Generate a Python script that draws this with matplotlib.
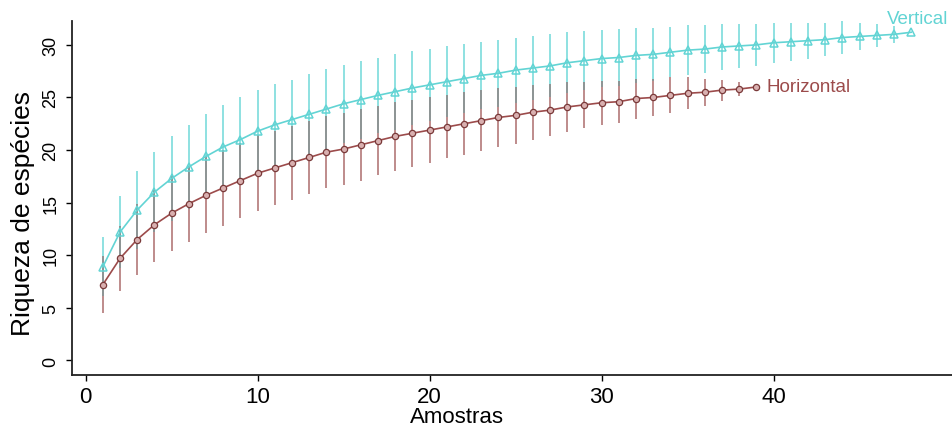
import numpy as np
import matplotlib
matplotlib.use("Agg")
import matplotlib.pyplot as plt

plt.rcParams['font.family'] = ['Liberation Sans', 'DejaVu Sans']

# species accumulation, "Vertical" sampling (48 samples)
vert_mean = [8.9, 12.2, 14.3, 16.0, 17.3, 18.4, 19.4, 20.3, 21.0, 21.8,
             22.4, 22.9, 23.4, 23.9, 24.4, 24.8, 25.2, 25.55, 25.9, 26.2,
             26.5, 26.8, 27.1, 27.3, 27.6, 27.8, 28.0, 28.3, 28.5, 28.7,
             28.8, 29.0, 29.1, 29.3, 29.5, 29.6, 29.8, 29.9, 30.0, 30.2,
             30.3, 30.4, 30.5, 30.7, 30.8, 30.9, 31.0, 31.2]
vert_sd = [2.8, 3.4, 3.7, 3.8, 4.0, 4.0, 4.0, 4.0, 4.0, 3.9,
           3.9, 3.8, 3.8, 3.8, 3.7, 3.7, 3.6, 3.6, 3.5, 3.4,
           3.4, 3.3, 3.2, 3.2, 3.1, 3.0, 3.0, 2.9, 2.8, 2.7,
           2.7, 2.6, 2.5, 2.4, 2.4, 2.3, 2.2, 2.1, 2.0, 1.9,
           1.8, 1.7, 1.6, 1.6, 1.3, 1.1, 0.8, 0.0]

# "Horizontal" sampling (39 samples)
horiz_mean = [7.2, 9.7, 11.5, 12.9, 14.0, 14.9, 15.7, 16.4, 17.1, 17.8,
              18.3, 18.8, 19.3, 19.8, 20.1, 20.5, 20.9, 21.3, 21.6, 21.9,
              22.2, 22.5, 22.8, 23.1, 23.3, 23.6, 23.8, 24.1, 24.3, 24.5,
              24.6, 24.9, 25.0, 25.2, 25.4, 25.5, 25.7, 25.8, 26.0]
horiz_sd = [2.7, 3.1, 3.4, 3.5, 3.6, 3.6, 3.6, 3.6, 3.6, 3.6,
            3.5, 3.5, 3.5, 3.4, 3.4, 3.4, 3.3, 3.3, 3.2, 3.1,
            3.0, 3.0, 2.9, 2.8, 2.7, 2.6, 2.5, 2.4, 2.2, 2.1,
            2.0, 1.9, 1.8, 1.7, 1.5, 1.3, 1.0, 0.7, 0.0]

x_ticks = [0, 10, 20, 30, 40]
y_ticks = [0, 5, 10, 15, 20, 25, 30]

CYAN = '#62d4d4'
CYAN_BAR = '#86dede'
RED = '#9c4b4b'
RED_BAR = '#b98282'
OVERLAP = '#8f8f8f'

vx = np.arange(1, len(vert_mean) + 1)
hx = np.arange(1, len(horiz_mean) + 1)
vm, vs = np.array(vert_mean), np.array(vert_sd)
hm, hs = np.array(horiz_mean), np.array(horiz_sd)

fig = plt.figure(figsize=(9.53, 4.27), dpi=100)
ax = fig.add_axes([72/953, 1 - 376/427, 1 - 72/953, (376 - 22)/427])

# error bars
ax.vlines(hx, hm - hs, hm + hs, color=RED_BAR, lw=1.3, zorder=2)
ax.vlines(vx, vm - vs, vm + vs, color=CYAN_BAR, lw=1.3, zorder=2)
# where the two bars overlap they look grey
n = len(hx)
lo = np.maximum(vm[:n] - vs[:n], hm - hs)
hi = np.minimum(vm[:n] + vs[:n], hm + hs)
ok = hi > lo
ax.vlines(hx[ok], lo[ok], hi[ok], color=OVERLAP, lw=1.3, zorder=2)

# curves
ax.plot(vx, vm, color=CYAN, lw=1.2, marker='^', ms=6, mfc='none',
        mec=CYAN, mew=1.1, zorder=3)
ax.plot(hx, hm, color=RED, lw=1.2, marker='o', ms=4.5, mfc='#d9b0b0',
        mec='#7a3a3a', mew=0.9, zorder=3)

ax.text(48.4, 32.5, 'Vertical', color=CYAN, fontsize=13.5,
        ha='center', va='center')
ax.text(39.6, 26.0, 'Horizontal', color=RED, fontsize=13.5,
        ha='left', va='center')

ax.set_xlim(-0.79, 50.43)
ax.set_ylim(-1.38, 32.27)
ax.set_xticks(x_ticks)
ax.set_yticks(y_ticks)
ax.tick_params(axis='x', labelsize=16, length=4, width=1, pad=4)
ax.tick_params(axis='y', labelsize=13, length=4, width=1, pad=5)
plt.setp(ax.get_yticklabels(), rotation=90, va='center')

for s in ['top', 'right']:
    ax.spines[s].set_visible(False)
for s in ['left', 'bottom']:
    ax.spines[s].set_linewidth(1.3)
    ax.spines[s].set_color('#222222')

fig.text(23/953, 1 - 213/427, 'Riqueza de espécies', rotation=90,
         ha='center', va='center', fontsize=19)
fig.text(457/953, 1 - 423/427, 'Amostras', ha='center', va='baseline',
         fontsize=16)

fig.savefig('out.png', dpi=100)
